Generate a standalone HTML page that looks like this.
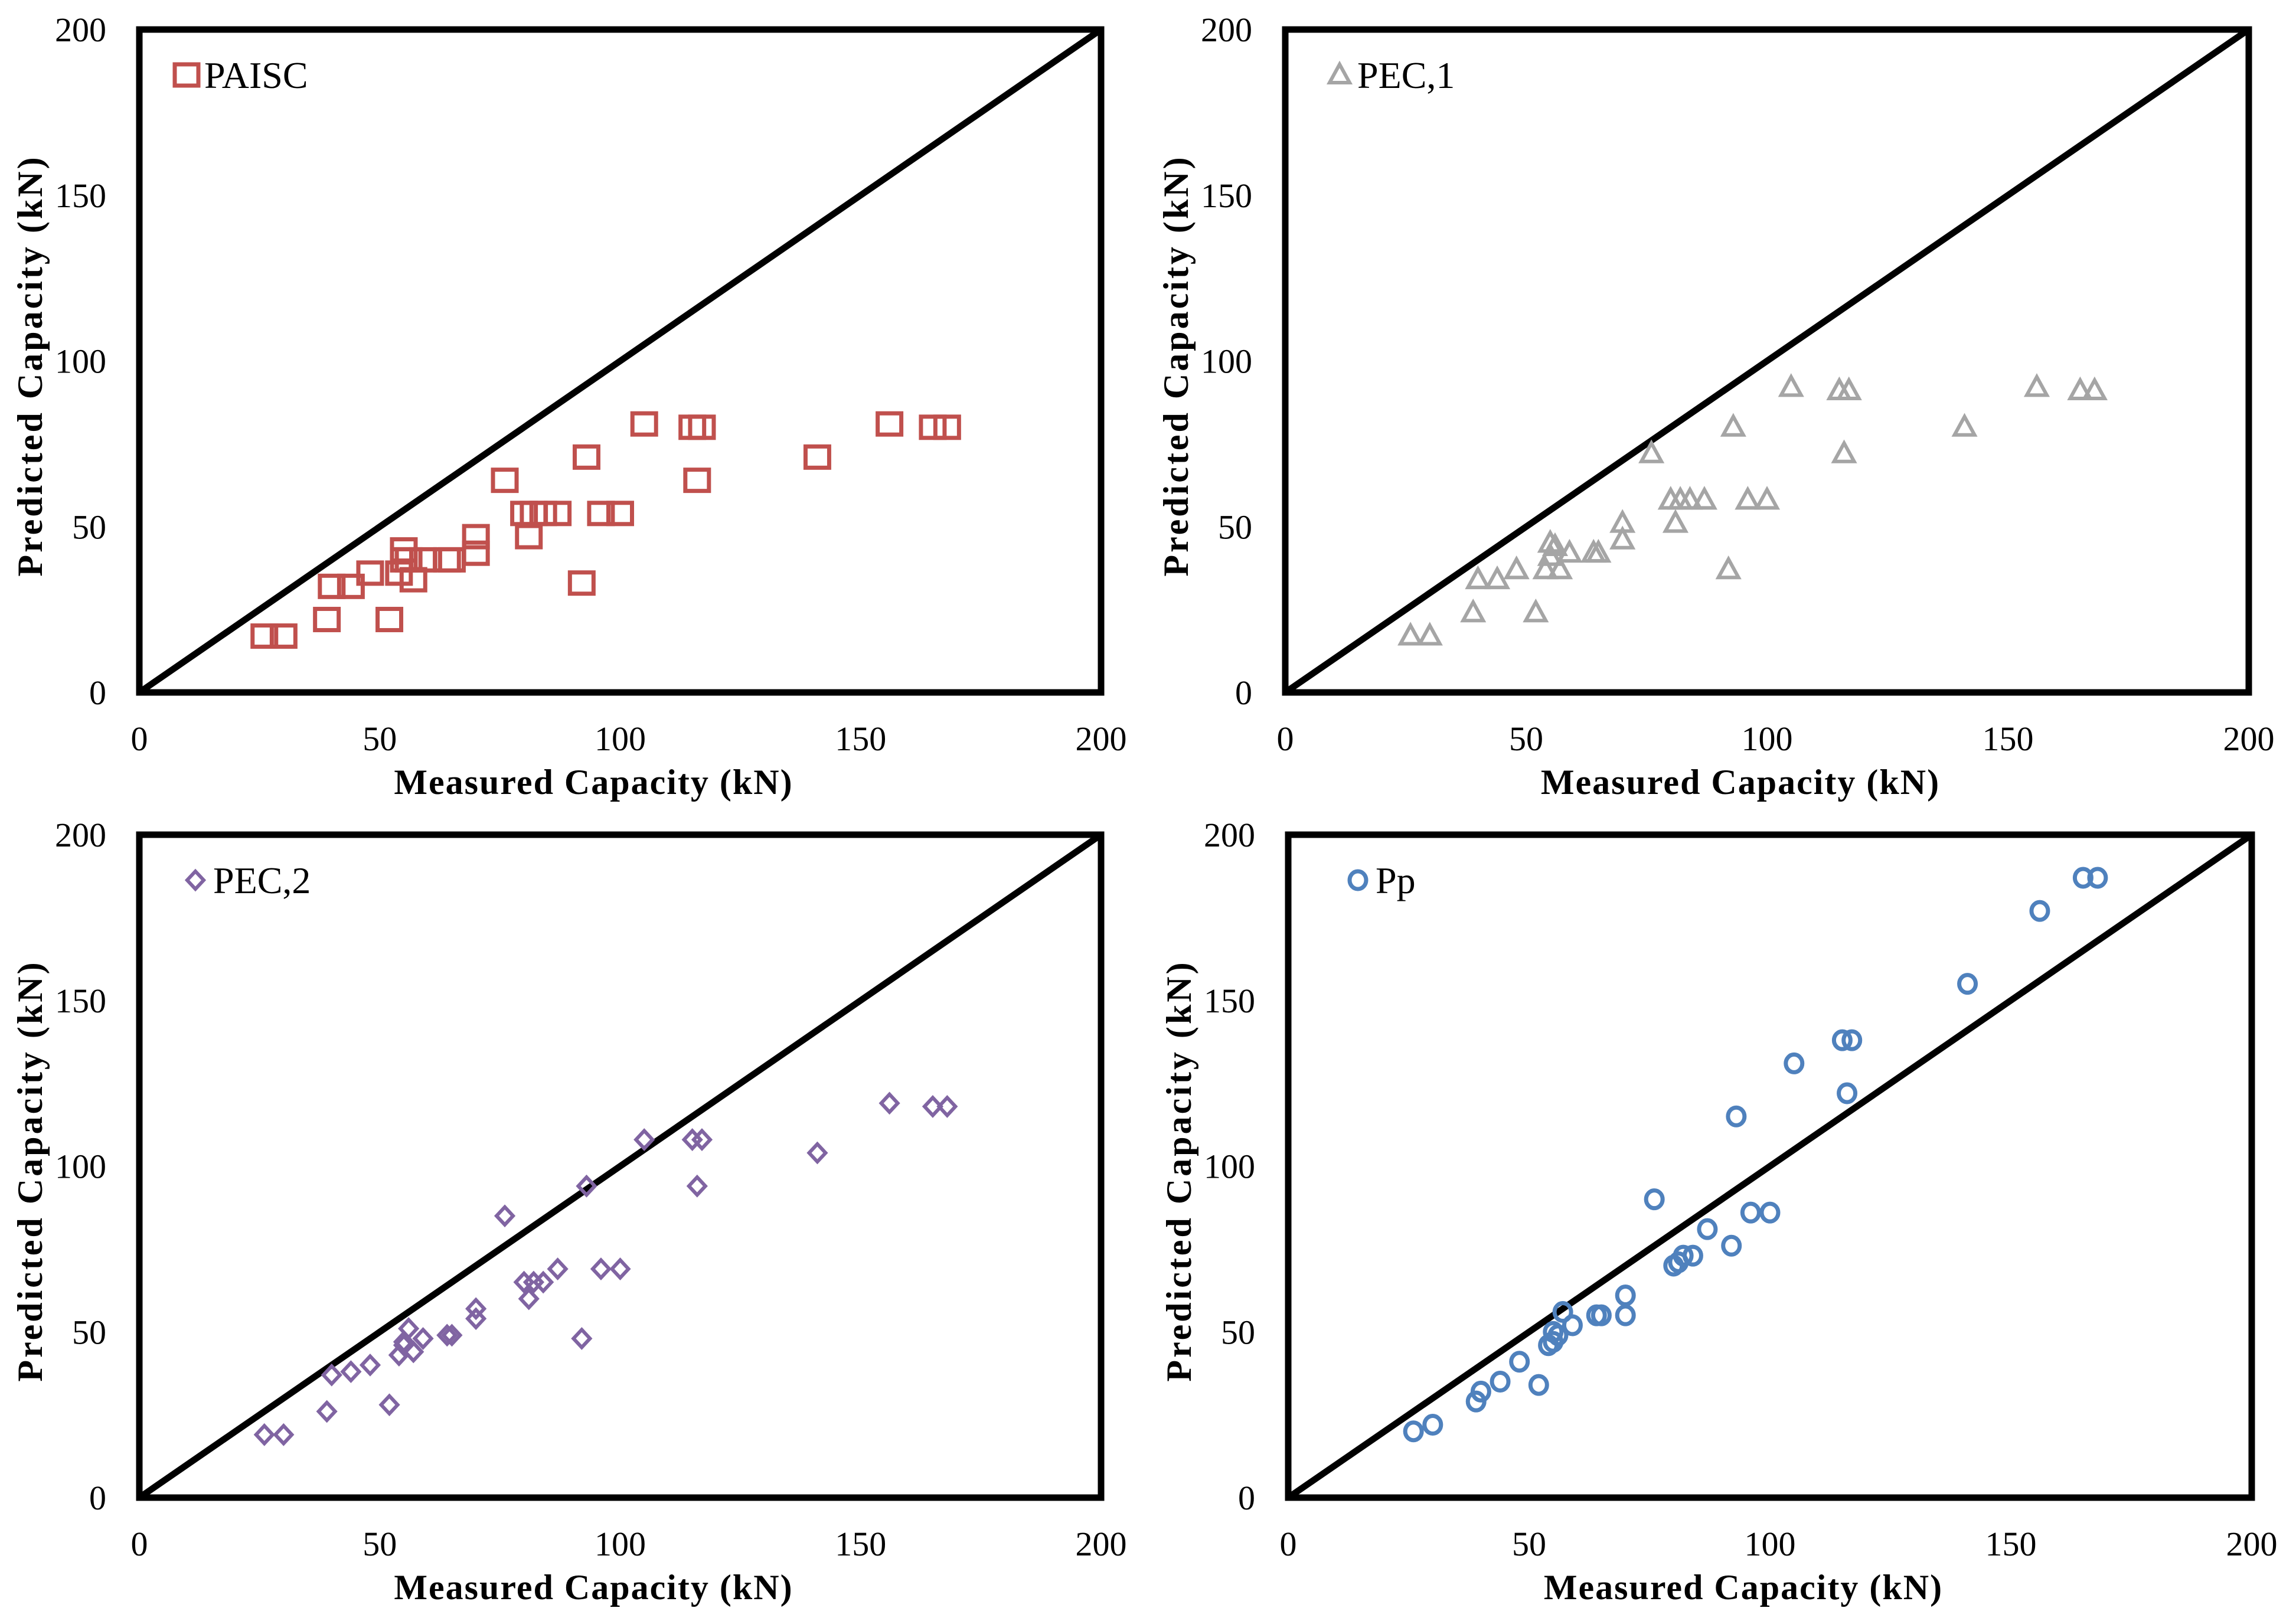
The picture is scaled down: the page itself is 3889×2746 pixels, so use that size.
<!DOCTYPE html>
<html><head><meta charset="utf-8"><style>
html,body{margin:0;padding:0;background:#fff;}
svg{display:block;}
text{font-family:"Liberation Serif",serif;fill:#000;}
</style></head><body>
<svg id="fig" width="3889" height="2746" viewBox="0 0 3889 2746" xmlns="http://www.w3.org/2000/svg"></svg>
<script>
const measured = [26,30,39,40,44,48,52,54,55,55,56,57,59,64,65,70,70,76,80,81,82,84,87,92,93,96,100,105,115,116,117,141,156,165,168];
const paisc = [17,17,22,32,32,36,22,36,40,43,40,34,40,40,40,47,42,64,54,47,54,54,54,33,71,54,54,81,80,64,80,71,81,80,80];
const pec1 = [17,17,24,34,34,37,24,37,41,45,44,37,42,42,42,51,46,72,58,51,58,58,58,37,80,58,58,92,91,72,91,80,92,91,91];
const pec2 = [19,19,26,37,38,40,28,43,47,46,51,44,48,49,49,57,54,85,65,60,65,65,69,48,94,69,69,108,108,94,108,104,119,118,118];
const pp = [20,22,29,32,35,41,34,46,47,50,49,56,52,55,55,61,55,90,70,71,73,73,81,76,115,86,86,131,138,122,138,155,177,187,187];
const ticks = [0,50,100,150,200];
const tickLabels = ["0","50","100","150","200"];

const NS="http://www.w3.org/2000/svg";
const svg=document.getElementById('fig');
function mk(tag,attrs,parent){const e=document.createElementNS(NS,tag);for(const k in attrs)e.setAttribute(k,attrs[k]);(parent||svg).appendChild(e);return e;}

const panels=[
 {name:'paisc',label:'PAISC',ys:paisc,color:'#C0504D',shape:'square',x0:236,x1:1865,y0:50,y1:1173},
 {name:'pec1',label:'PEC,1',ys:pec1,color:'#A5A5A5',shape:'triangle',x0:2177,x1:3809,y0:50,y1:1173},
 {name:'pec2',label:'PEC,2',ys:pec2,color:'#8064A2',shape:'diamond',x0:236,x1:1865,y0:1414,y1:2537},
 {name:'pp',label:'Pp',ys:pp,color:'#4F81BD',shape:'circle',x0:2182,x1:3814,y0:1414,y1:2537}
];

function marker(g,shape,cx,cy,color){
  let e;
  if(shape==='square') e=mk('rect',{x:cx-20,y:cy-18,width:40,height:36,fill:'none',stroke:color,'stroke-width':7},g);
  else if(shape==='triangle') e=mk('polygon',{points:`${cx},${cy-18} ${cx+17},${cy+13} ${cx-17},${cy+13}`,fill:'none',stroke:color,'stroke-width':6},g);
  else if(shape==='diamond') e=mk('polygon',{points:`${cx},${cy-15} ${cx+14},${cy} ${cx},${cy+15} ${cx-14},${cy}`,fill:'none',stroke:color,'stroke-width':6},g);
  else e=mk('ellipse',{cx:cx,cy:cy,rx:14,ry:15,fill:'none',stroke:color,'stroke-width':7},g);
  return e;
}

panels.forEach(p=>{
  const g=mk('g',{});
  
  
  const sx=v=>p.x0+(v/200)*(p.x1-p.x0);
  const sy=v=>p.y1-(v/200)*(p.y1-p.y0);
  const d=mk('line',{x1:sx(0),y1:sy(0),x2:sx(200),y2:sy(200),stroke:'#000','stroke-width':11},g);
  
  
  measured.forEach((m,i)=>{
    const e=marker(g,p.shape,sx(m),sy(p.ys[i]),p.color);
    
    
  });
  const f=mk('rect',{x:p.x0,y:p.y0,width:p.x1-p.x0,height:p.y1-p.y0,fill:'none',stroke:'#000','stroke-width':11},g);
  
  
  ticks.forEach((t,i)=>{
    const yl=mk('text',{x:p.x0-56,y:sy(t)+20,'font-size':58,'text-anchor':'end'},g);
    yl.textContent=tickLabels[i];
    
    
    const xl=mk('text',{x:sx(t),y:p.y1+98,'font-size':58,'text-anchor':'middle'},g);
    xl.textContent=tickLabels[i];
    
    
  });
  const xt=mk('text',{x:(p.x0+p.x1)/2-45,y:p.y1+172,'font-size':60,'font-weight':'bold','text-anchor':'middle','letter-spacing':2,'xml:space':'preserve'},g);
  xt.textContent='Measured Capacity  (kN)';
  
  
  const cy=(p.y0+p.y1)/2+8;
  const yt=mk('text',{x:0,y:0,'font-size':60,'font-weight':'bold','text-anchor':'middle','letter-spacing':4,transform:`translate(${p.x0-165},${cy}) rotate(-90)`,'xml:space':'preserve'},g);
  yt.textContent='Predicted  Capacity  (kN)';
  
  
  const lx=p.x0+(p.name==='pp'?118:p.name==='pec1'?92:p.name==='pec2'?95:80);
  const ly=p.y0+77;
  const lm=marker(g,p.shape,lx,ly,p.color);
  
  
  const lt=mk('text',{x:lx+30,y:ly+22,'font-size':64},g);
  lt.textContent=p.label;
  
  
});
</script>
</body></html>
